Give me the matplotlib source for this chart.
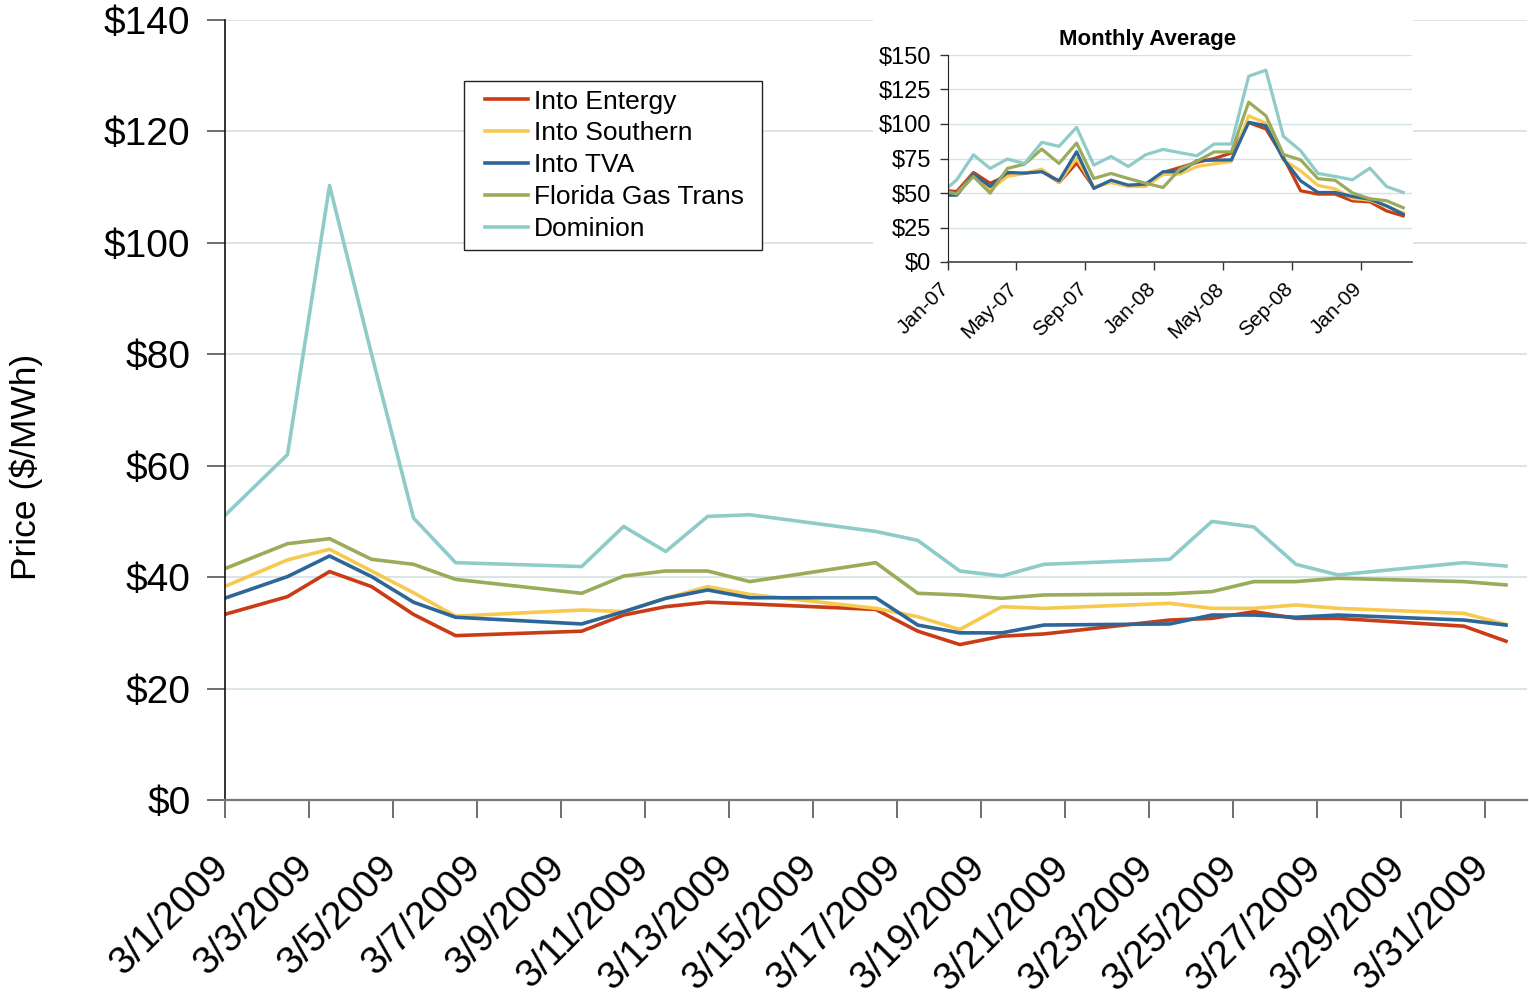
import matplotlib
matplotlib.use('Agg')
import matplotlib.pyplot as plt
from matplotlib.patches import Rectangle
from matplotlib.transforms import ScaledTranslation
import numpy as np

plt.rcParams['font.family'] = ['Liberation Sans', 'DejaVu Sans']

# ---------------- data ----------------
series_names = ['Into Entergy', 'Into Southern', 'Into TVA', 'Florida Gas Trans', 'Dominion']
series_colors = ['#C93C15', '#F7C94F', '#2D6698', '#9AAB5A', '#8FCBC8']

# daily trading days (first point is the previous Friday, clipped by the axis)
daily_dates = ['2009-02-27',
               '2009-03-02', '2009-03-03', '2009-03-04', '2009-03-05', '2009-03-06',
               '2009-03-09', '2009-03-10', '2009-03-11', '2009-03-12', '2009-03-13',
               '2009-03-16', '2009-03-17', '2009-03-18', '2009-03-19', '2009-03-20',
               '2009-03-23', '2009-03-24', '2009-03-25', '2009-03-26', '2009-03-27',
               '2009-03-30', '2009-03-31']
entergy_daily = [30.1, 36.5, 41.0, 38.3, 33.3, 29.5, 30.3, 33.2, 34.7, 35.5, 35.2,
                 34.2, 30.3, 27.9, 29.4, 29.8, 32.3, 32.6, 33.8, 32.6, 32.6, 31.2, 28.5]
southern_daily = [33.5, 43.1, 45.0, 41.1, 37.2, 33.0, 34.1, 33.8, 36.2, 38.3, 36.9,
                  34.4, 32.9, 30.6, 34.7, 34.4, 35.3, 34.4, 34.4, 35.0, 34.4, 33.5, 31.5]
tva_daily = [32.3, 40.1, 43.8, 40.1, 35.5, 32.8, 31.6, 33.8, 36.2, 37.7, 36.3,
             36.3, 31.4, 30.0, 30.0, 31.4, 31.6, 33.2, 33.2, 32.8, 33.2, 32.3, 31.4]
florida_daily = [37.0, 46.0, 46.9, 43.2, 42.3, 39.6, 37.1, 40.2, 41.1, 41.1, 39.2,
                 42.6, 37.1, 36.8, 36.2, 36.8, 37.0, 37.4, 39.2, 39.2, 39.8, 39.2, 38.6]
dominion_daily = [40.0, 62.0, 110.3, 80.0, 50.6, 42.6, 41.9, 49.1, 44.6, 50.9, 51.2,
                  48.2, 46.6, 41.1, 40.2, 42.3, 43.2, 50.0, 49.0, 42.3, 40.4, 42.6, 42.0]

xtick_dates = ['2009-03-01', '2009-03-03', '2009-03-05', '2009-03-07', '2009-03-09',
               '2009-03-11', '2009-03-13', '2009-03-15', '2009-03-17', '2009-03-19',
               '2009-03-21', '2009-03-23', '2009-03-25', '2009-03-27', '2009-03-29',
               '2009-03-31']
xtick_labels = ['3/1/2009', '3/3/2009', '3/5/2009', '3/7/2009', '3/9/2009',
                '3/11/2009', '3/13/2009', '3/15/2009', '3/17/2009', '3/19/2009',
                '3/21/2009', '3/23/2009', '3/25/2009', '3/27/2009', '3/29/2009',
                '3/31/2009']
ytick_vals = [0, 20, 40, 60, 80, 100, 120, 140]
ytick_labels = ['$0', '$20', '$40', '$60', '$80', '$100', '$120', '$140']

# monthly averages (Dec-06 point is clipped by the axis)
monthly_months = ['2006-12',
                  '2007-01', '2007-02', '2007-03', '2007-04', '2007-05', '2007-06',
                  '2007-07', '2007-08', '2007-09', '2007-10', '2007-11', '2007-12',
                  '2008-01', '2008-02', '2008-03', '2008-04', '2008-05', '2008-06',
                  '2008-07', '2008-08', '2008-09', '2008-10', '2008-11', '2008-12',
                  '2009-01', '2009-02', '2009-03']
entergy_monthly = [52.1, 51.1, 64.9, 57.1, 62.5, 64.4, 66.1, 57.6, 71.7, 54.0, 58.1, 55.2, 55.7,
                   64.9, 68.5, 72.2, 75.0, 79.0, 101.0, 96.4, 75.8, 51.6, 49.2, 49.2, 44.3,
                   43.6, 37.0, 33.4]
southern_monthly = [51.6, 49.2, 63.7, 52.3, 62.0, 64.2, 67.3, 57.6, 75.1, 54.5, 57.6, 54.7, 54.7,
                    63.4, 63.7, 69.2, 71.1, 72.8, 105.9, 100.6, 74.0, 66.0, 55.5, 53.0, 46.0,
                    44.8, 40.2, 35.6]
tva_monthly = [48.4, 48.4, 63.7, 54.7, 64.9, 64.4, 65.4, 58.8, 79.9, 53.3, 59.3, 55.7, 56.4,
               65.4, 65.4, 73.4, 73.8, 74.0, 101.2, 98.8, 74.6, 58.8, 50.4, 50.4, 47.5,
               45.5, 40.7, 34.6]
florida_monthly = [52.4, 49.2, 62.0, 49.9, 67.8, 70.9, 81.8, 71.4, 86.2, 60.5, 64.2, 60.5, 57.1,
                   54.0, 67.3, 73.0, 79.8, 79.8, 115.8, 106.0, 77.9, 74.0, 60.4, 59.2, 50.1,
                   45.8, 44.4, 39.3]
dominion_monthly = [48.4, 59.6, 77.7, 67.8, 74.6, 71.4, 86.7, 83.8, 97.6, 70.2, 76.5, 69.2, 77.7,
                    81.6, 79.2, 77.0, 85.5, 85.5, 134.6, 139.0, 91.0, 80.6, 64.2, 62.0, 59.6,
                    68.0, 54.7, 50.4]
inset_tick_dates = ['2007-01-01', '2007-05-01', '2007-09-01', '2008-01-01',
                    '2008-05-01', '2008-09-01', '2009-01-01']
inset_tick_labels = ['Jan-07', 'May-07', 'Sep-07', 'Jan-08', 'May-08', 'Sep-08', 'Jan-09']
inset_ytick_vals = [0, 25, 50, 75, 100, 125, 150]
inset_ytick_labels = ['$0', '$25', '$50', '$75', '$100', '$125', '$150']

daily_series = [entergy_daily, southern_daily, tva_daily, florida_daily, dominion_daily]
monthly_series = [entergy_monthly, southern_monthly, tva_monthly, florida_monthly, dominion_monthly]

# ---------------- figure ----------------
W, H = 1529, 1000
fig = plt.figure(figsize=(W / 100, H / 100), dpi=100)
grid_color = '#D3E2E2'

# main axes
AX_L, AX_B, AX_W, AX_H = 224.5, 800.0, 1302.5, 780.0   # pixel layout of the plot area
ax = fig.add_axes([AX_L / W, 1 - AX_B / H, AX_W / W, AX_H / H], zorder=0)
# each day plotted at the middle of its day slot
x_daily = np.array(daily_dates, dtype='datetime64[D]').astype('datetime64[h]') + np.timedelta64(12, 'h')
for name, col, vals in zip(series_names, series_colors, daily_series):
    ax.plot(x_daily, vals, color=col, lw=2.6, label=name, zorder=2)

ax.set_xlim(np.datetime64('2009-03-01'), np.datetime64('2009-04-01'))
ax.set_ylim(0, 140)
ax.set_xticks(np.array(xtick_dates, dtype='datetime64[D]'))
ax.set_xticklabels(xtick_labels, rotation=45, ha='right', fontsize=28)
ax.set_yticks(ytick_vals)
ax.set_yticklabels(ytick_labels, fontsize=28)
ax.tick_params(axis='x', length=13, width=1.2, color='#555555', pad=22.5, direction='out')
ax.tick_params(axis='y', length=13, width=1.2, color='#555555', pad=11.5, direction='out')
ax.grid(axis='y', color=grid_color, lw=1.2)
ax.set_axisbelow(True)
for s in ['top', 'right']:
    ax.spines[s].set_visible(False)
ax.spines['left'].set_color('#111111')
ax.spines['left'].set_linewidth(1.2)
ax.spines['bottom'].set_color('#777777')
ax.spines['bottom'].set_linewidth(1.6)

ax.set_ylabel('Price ($/MWh)', fontsize=25.5)
ax.yaxis.set_label_coords(-0.139, 0.427)


def ax_frac(px, py):
    return ((px - AX_L) / AX_W, (AX_B - py) / AX_H)


# legend frame (white box with dark border) and legend entries
fx0, fy0 = ax_frac(464, 250)
fx1, fy1 = ax_frac(762, 81)
ax.add_patch(Rectangle((fx0, fy0), fx1 - fx0, fy1 - fy0, transform=ax.transAxes,
                       facecolor='white', edgecolor='#222222', lw=1.0, zorder=4,
                       clip_on=False))
leg = ax.legend(loc='upper left', bbox_to_anchor=ax_frac(485, 89.5), borderaxespad=0,
                fontsize=19, handlelength=1.63, handletextpad=0.22, labelspacing=0.30,
                borderpad=0.0, frameon=False)
leg.set_zorder(5)
for h in leg.get_lines():
    h.set_linewidth(2.6)

# white background behind the inset chart
fig.add_artist(Rectangle((873 / W, 1 - 340 / H), (1413 - 873) / W, (340 - 12) / H,
                         transform=fig.transFigure, facecolor='white', edgecolor='none',
                         zorder=1))

# inset axes
ax2 = fig.add_axes([948 / W, 1 - 262 / H, 464 / W, 207 / H], zorder=2)
m = np.array(monthly_months, dtype='datetime64[M]')
m_start = m.astype('datetime64[D]').astype('datetime64[h]')
m_end = (m + 1).astype('datetime64[D]').astype('datetime64[h]')
x_monthly = m_start + (m_end - m_start) // 2
for name, col, vals in zip(series_names, series_colors, monthly_series):
    ax2.plot(x_monthly, vals, color=col, lw=2.3)
ax2.set_xlim(np.datetime64('2007-01-01'), np.datetime64('2009-04-01'))
ax2.set_ylim(0, 150)
ax2.set_xticks(np.array(inset_tick_dates, dtype='datetime64[D]'))
ax2.set_xticklabels(inset_tick_labels, rotation=45, ha='right', fontsize=15)
ax2.set_yticks(inset_ytick_vals)
ax2.set_yticklabels(inset_ytick_labels, fontsize=17)
ax2.tick_params(axis='both', length=6, width=1.0, color='#333333', direction='out')
ax2.tick_params(axis='x', pad=6)
ax2.tick_params(axis='y', pad=6)
ax2.grid(axis='y', color=grid_color, lw=1.0)
ax2.set_axisbelow(True)
for s in ['top', 'right']:
    ax2.spines[s].set_visible(False)
ax2.spines['left'].set_color('#222222')
ax2.spines['bottom'].set_color('#444444')
ax2.spines['bottom'].set_linewidth(1.2)
ax2.text(0.431, 1.05, 'Monthly Average', transform=ax2.transAxes, ha='center',
         va='baseline', fontsize=16, fontweight='bold')

# nudge rotated date labels so their ends sit just right of the ticks
main_shift = ScaledTranslation(12 / 100, 0, fig.dpi_scale_trans)
for lbl in ax.get_xticklabels():
    lbl.set_transform(lbl.get_transform() + main_shift)
inset_shift = ScaledTranslation(5 / 100, 0, fig.dpi_scale_trans)
for lbl in ax2.get_xticklabels():
    lbl.set_transform(lbl.get_transform() + inset_shift)

fig.savefig('out.png', dpi=100)
